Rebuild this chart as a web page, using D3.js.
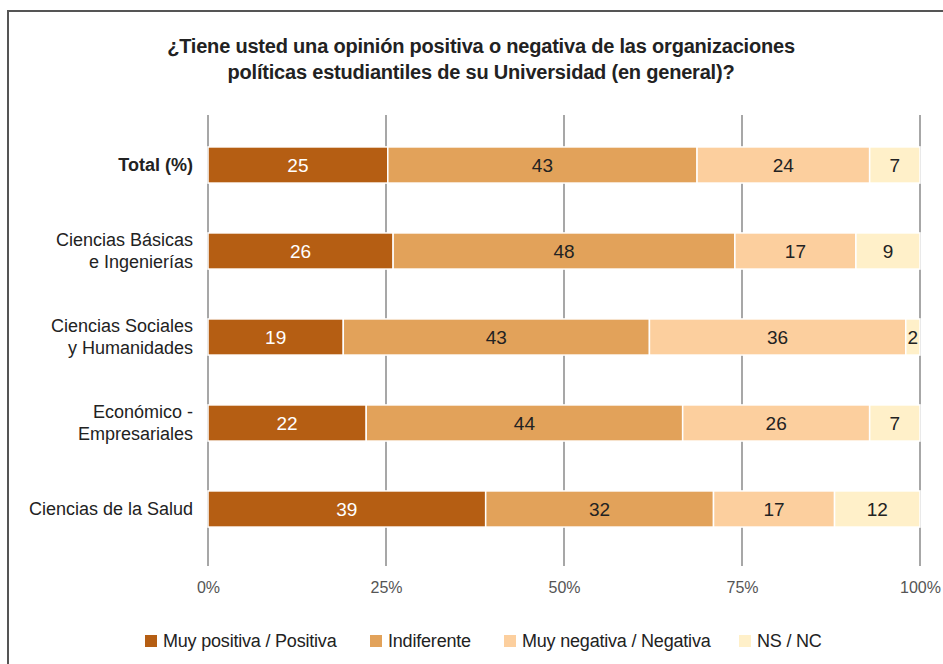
<!DOCTYPE html>
<html><head><meta charset="utf-8">
<script src="https://cdn.jsdelivr.net/npm/d3@7"></script>
<style>
html,body{margin:0;padding:0;background:#fff;}
svg{display:block;}
text{font-family:"Liberation Sans Narrow","Liberation Sans",Arial,sans-serif;}
</style></head>
<body>
<svg id="chart" width="943" height="664"></svg>
<script>
const categories = ["Total (%)", "Ciencias Básicas|e Ingenierías", "Ciencias Sociales|y Humanidades", "Económico -|Empresariales", "Ciencias de la Salud"];
const seriesNames = ["Muy positiva / Positiva", "Indiferente", "Muy negativa / Negativa", "NS / NC"];
const positiva = [25, 26, 19, 22, 39];
const indiferente = [43, 48, 43, 44, 32];
const negativa = [24, 17, 36, 26, 17];
const nsnc = [7, 9, 2, 7, 12];
const tickValues = [0, 0.25, 0.5, 0.75, 1];
const tickLabels = ["0%", "25%", "50%", "75%", "100%"];
const colors = ["#B55E13", "#E2A25A", "#FCCF9E", "#FFF0C9"];
const textColors = ["#ffffff", "#222222", "#222222", "#222222"];

const seriesValues = [positiva, indiferente, negativa, nsnc];
const svg = d3.select("#chart");

// border
svg.append("path").attr("d", "M8,664 L8,11 L943,11").attr("fill", "none").attr("stroke", "#555").attr("stroke-width", 2);

// title
const title = svg.append("text").attr("text-anchor", "middle").attr("font-weight", "bold").attr("font-size", 20)
  .attr("letter-spacing", -0.2).attr("fill", "#222");
title.append("tspan").attr("x", 481).attr("y", 53).text("¿Tiene usted una opinión positiva o negativa de las organizaciones");
title.append("tspan").attr("x", 481).attr("y", 79).text("políticas estudiantiles de su Universidad (en general)?");

const x = d3.scaleLinear().domain([0, 1]).range([208, 920]);
const y = d3.scaleBand().domain(categories).range([122, 552]).paddingInner(0.58).paddingOuter(0.29);

// grid lines
svg.append("g").selectAll("line").data(tickValues).join("line")
  .attr("x1", d => x(d)).attr("x2", d => x(d)).attr("y1", 115).attr("y2", 566)
  .attr("stroke", "#8a8a8a").attr("stroke-width", 1.5);

// axis labels
const axis = d3.axisBottom(x).tickValues(tickValues).tickFormat((d, i) => tickLabels[i]).tickSize(0).tickPadding(0);
const ag = svg.append("g").attr("transform", "translate(0,582)").call(axis);
ag.select(".domain").remove();
ag.selectAll("text").attr("font-size", 16).attr("fill", "#555").attr("dy", "0.71em")
  .style("font-family", '"Liberation Sans Narrow","Liberation Sans",Arial,sans-serif');

// stacked data
const rows = categories.map((c, i) => {
  const vals = seriesValues.map(s => s[i]);
  const total = d3.sum(vals);
  let acc = 0;
  return vals.map((v, k) => {
    const seg = {cat: c, k, v, x0: acc / total, x1: (acc + v) / total};
    acc += v;
    return seg;
  });
});
const segs = rows.flat();

const bars = svg.append("g");
bars.selectAll("rect").data(segs).join("rect")
  .attr("x", d => x(d.x0)).attr("width", d => x(d.x1) - x(d.x0))
  .attr("y", d => y(d.cat)).attr("height", y.bandwidth())
  .attr("fill", d => colors[d.k]).attr("stroke", "#fff").attr("stroke-width", 1.5);

bars.selectAll("text").data(segs).join("text")
  .attr("x", d => (x(d.x0) + x(d.x1)) / 2).attr("y", d => y(d.cat) + y.bandwidth() / 2)
  .attr("dy", "0.36em").attr("text-anchor", "middle").attr("font-size", 19)
  .attr("fill", d => textColors[d.k]).text(d => d.v);

// category labels
const cl = svg.append("g").selectAll("text").data(categories).join("text")
  .attr("text-anchor", "end").attr("font-size", 18).attr("fill", "#222")
  .attr("font-weight", (d, i) => i === 0 ? "bold" : "normal");
cl.each(function(d) {
  const lines = d.split("|");
  const cy = y(d) + y.bandwidth() / 2;
  const t = d3.select(this);
  lines.forEach((ln, j) => {
    t.append("tspan").attr("x", 193)
      .attr("y", cy + (j - (lines.length - 1) / 2) * 22).attr("dy", "0.36em").text(ln);
  });
});

// legend
const legendX = [145, 370, 504, 739];
const lg = svg.append("g").selectAll("g").data(seriesNames).join("g")
  .attr("transform", (d, i) => `translate(${legendX[i]},641)`);
lg.append("rect").attr("x", 0).attr("y", -6).attr("width", 12).attr("height", 12).attr("fill", (d, i) => colors[i]);
lg.append("text").attr("x", 18).attr("dy", "0.36em").attr("font-size", 18).attr("letter-spacing", -0.2)
  .attr("fill", "#222").text(d => d);
</script>
</body></html>
